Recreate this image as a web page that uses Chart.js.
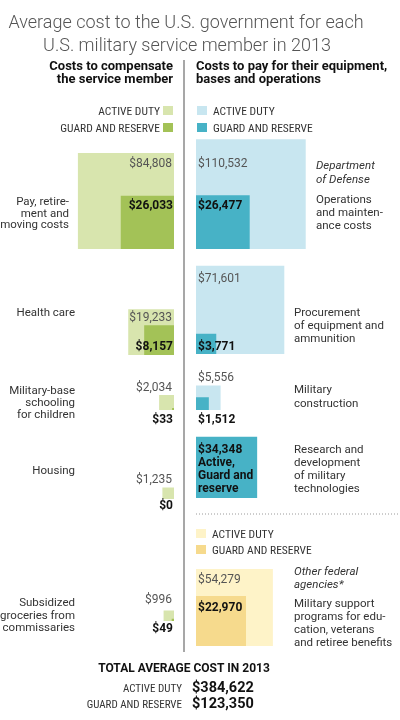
<!DOCTYPE html>
<html><head><meta charset="utf-8">
<script src="https://cdn.jsdelivr.net/npm/chart.js@4.4.1/dist/chart.umd.min.js"></script>
<style>html,body{margin:0;padding:0;background:#fff}#wrap{position:relative;width:400px;height:720px}</style>
</head><body><div id="wrap"><canvas id="c" width="400" height="720"></canvas></div>
<script>
// ---------- DATA ----------
const compCategories = [
  ['Pay, retire-','ment and','moving costs'],
  ['Health care'],
  ['Military-base','schooling','for children'],
  ['Housing'],
  ['Subsidized','groceries from','commissaries']
];
const compActive = [84808, 19233, 2034, 1235, 996];
const compGuard  = [26033, 8157, 33, 0, 49];

const dodCategories = [
  ['Operations','and mainten-','ance costs'],
  ['Procurement','of equipment and','ammunition'],
  ['Military','construction'],
  ['Research and','development','of military','technologies']
];
const dodActive = [110532, 71601, 5556, 34348];
const dodGuard  = [26477, 3771, 1512, 34348];

const otherCategories = [['Military support','programs for edu-','cation, veterans','and retiree benefits']];
const otherActive = [54279];
const otherGuard  = [22970];

const seriesLabels = ['ACTIVE DUTY', 'GUARD AND RESERVE'];
const totalValues  = [384622, 123350];

// ---------- LAYOUT / STYLE ----------
const K = 0.33;            // px per sqrt(dollar)
const XL = 174, XR = 196;  // anchor edges of left / right squares
const leftRows = [
  {base:249, lx:69, ly:[205,216.5,228], aY:167, gY:209},
  {base:355, lx:75, ly:[316], aY:321, gY:350},
  {base:410, lx:75, ly:[394,406,418], aY:391, gY:423},
  {base:499, lx:75, ly:[474], aY:483, gY:509},
  {base:621, lx:75, ly:[606,619,631], aY:603, gY:632}
];
const rightRows = [
  {base:249, lx:316, ly:[203,216,229], aY:167, gY:209},
  {base:354, lx:294, ly:[316,329,342], aY:282, gY:350},
  {base:410, lx:294, ly:[393,407], aY:381, gY:423},
  {base:498, lx:294, ly:[453,466,479,492], aY:null, gY:453}
];
const otherRow = {base:646, lx:294, ly:[607,620,633,646], aY:583, gY:611};
const COL = {
  greenA:'#d8e5ae', greenG:'#a3c257',
  blueA:'#c8e6f0', blueG:'#47b2c6',
  yelA:'#fef3c8', yelG:'#f6da8d'
};
const F = 'Roboto, "Liberation Sans", Arial, sans-serif';
const N = '"Liberation Sans Narrow", "Roboto Condensed", Roboto, sans-serif';

function fmt(v){ return '$' + v.toLocaleString('en-US'); }
function square(value, anchorX, baseY, dir){
  const s = K*Math.sqrt(value);
  const x2 = anchorX + dir*s;
  return [{x:anchorX,y:baseY},{x:x2,y:baseY},{x:x2,y:baseY-s},{x:anchorX,y:baseY-s},{x:anchorX,y:baseY}];
}
function sqDs(value, anchorX, baseY, dir, color, order){
  return {data: square(value, anchorX, baseY, dir), showLine:true, fill:'shape',
    backgroundColor: color, borderColor: color, borderWidth: 0, pointRadius: 0, order: order, tension:0};
}

const datasets = [];
compActive.forEach((v,i)=>{
  datasets.push(sqDs(v, XL, leftRows[i].base, -1, COL.greenA, 2));
  if (compGuard[i] > 0) datasets.push(sqDs(compGuard[i], XL, leftRows[i].base, -1, COL.greenG, 1));
});
dodActive.forEach((v,i)=>{
  const isCombined = dodActive[i] === dodGuard[i];
  if (!isCombined) datasets.push(sqDs(v, XR, rightRows[i].base, 1, COL.blueA, 2));
  datasets.push(sqDs(dodGuard[i], XR, rightRows[i].base, 1, COL.blueG, 1));
});
otherActive.forEach((v,i)=>{
  datasets.push(sqDs(v, XR, otherRow.base, 1, COL.yelA, 2));
  datasets.push(sqDs(otherGuard[i], XR, otherRow.base, 1, COL.yelG, 1));
});
// divider and dotted separator
datasets.push({data:[{x:184,y:60},{x:184,y:652}], showLine:true, fill:false, borderColor:'#8a8a8a', borderWidth:1.5, pointRadius:0, order:0});
datasets.push({data:[{x:196,y:514},{x:400,y:514}], showLine:true, fill:false, borderColor:'#9a9a9a', borderWidth:1, borderDash:[1,2], pointRadius:0, order:0});

const textPlugin = {
  id:'texts',
  afterDraw(chart){
    const ctx = chart.ctx;
    const xs = chart.scales.x, ys = chart.scales.y;
    const X = v=>xs.getPixelForValue(v), Y = v=>ys.getPixelForValue(v);
    function t(str, x, y, font, color, align){
      ctx.font = font; ctx.fillStyle = color; ctx.textAlign = align || 'left'; ctx.textBaseline = 'alphabetic';
      ctx.fillText(str, X(x), Y(y));
    }
    function sw(x, y, w, h, c){ ctx.fillStyle = c; ctx.fillRect(X(x), Y(y), w, h); }
    ctx.save();
    // title
    t('Average cost to the U.S. government for each', 186, 28, '300 18px '+F, '#555', 'center');
    t('U.S. military service member in 2013', 187, 51, '300 18px '+F, '#555', 'center');
    // headers
    const H = 'bold 13px '+F;
    t('Costs to compensate', 173, 70, H, '#111', 'right');
    t('the service member', 173, 83, H, '#111', 'right');
    t('Costs to pay for their equipment,', 196, 70, H, '#111', 'left');
    t('bases and operations', 196, 83, H, '#111', 'left');
    // legends
    const L = '11.5px '+N;
    t(seriesLabels[0], 160, 115, L, '#333', 'right');
    t(seriesLabels[1], 160, 132, L, '#333', 'right');
    sw(163, 106, 10, 9, COL.greenA); sw(163, 123, 10, 9, COL.greenG);
    sw(197, 106, 10, 9, COL.blueA);  sw(197, 123, 10, 9, COL.blueG);
    t(seriesLabels[0], 213, 115, L, '#333', 'left');
    t(seriesLabels[1], 213, 132, L, '#333', 'left');
    sw(196, 529, 10, 9, COL.yelA); sw(196, 545, 10, 9, COL.yelG);
    t(seriesLabels[0], 212, 538, L, '#333', 'left');
    t(seriesLabels[1], 212, 554, L, '#333', 'left');
    // left rows
    const D = '11.5px '+F, R = '12px '+F, B = 'bold 12px '+F;
    leftRows.forEach((r,i)=>{
      compCategories[i].forEach((ln,j)=>t(ln, r.lx, r.ly[j], D, '#333', 'right'));
      t(fmt(compActive[i]), XL-2, r.aY, R, '#555', 'right');
      t(fmt(compGuard[i]), XL-1, r.gY, B, '#111', 'right');
    });
    // right rows
    rightRows.forEach((r,i)=>{
      dodCategories[i].forEach((ln,j)=>t(ln, r.lx, r.ly[j], D, '#333', 'left'));
      if (r.aY !== null) t(fmt(dodActive[i]), XR+2, r.aY, R, '#555', 'left');
      t(fmt(dodGuard[i]), XR+2, r.gY, B, '#111', 'left');
    });
    t('Active,', XR+2, 466, B, '#111', 'left');
    t('Guard and', XR+2, 479, B, '#111', 'left');
    t('reserve', XR+2, 492, B, '#111', 'left');
    t('Department', 316, 169, 'italic 11.5px '+F, '#333', 'left');
    t('of Defense', 316, 183, 'italic 11.5px '+F, '#333', 'left');
    // other agencies
    otherCategories[0].forEach((ln,j)=>t(ln, otherRow.lx, otherRow.ly[j], D, '#333', 'left'));
    t('Other federal', 294, 575, 'italic 11.5px '+F, '#333', 'left');
    t('agencies*', 294, 588, 'italic 11.5px '+F, '#333', 'left');
    t(fmt(otherActive[0]), XR+2, otherRow.aY, R, '#555', 'left');
    t(fmt(otherGuard[0]), XR+2, otherRow.gY, B, '#111', 'left');
    // totals
    t('TOTAL AVERAGE COST IN 2013', 184, 672, 'bold 12px '+F, '#111', 'center');
    const LT = '11px '+N;
    t(seriesLabels[0], 182, 692, LT, '#333', 'right');
    t(seriesLabels[1], 182, 708, LT, '#333', 'right');
    t(fmt(totalValues[0]), 192, 692, 'bold 14.5px '+F, '#111', 'left');
    t(fmt(totalValues[1]), 192, 708, 'bold 14.5px '+F, '#111', 'left');
    ctx.restore();
  }
};

new Chart(document.getElementById('c'), {
  type:'scatter',
  data:{datasets},
  options:{
    responsive:false, animation:false, events:[],
    layout:{padding:0},
    plugins:{legend:{display:false}, tooltip:{enabled:false}, title:{display:false}},
    scales:{
      x:{type:'linear', min:0, max:400, display:false},
      y:{type:'linear', min:0, max:720, reverse:true, display:false}
    }
  },
  plugins:[textPlugin]
});
</script></body></html>
